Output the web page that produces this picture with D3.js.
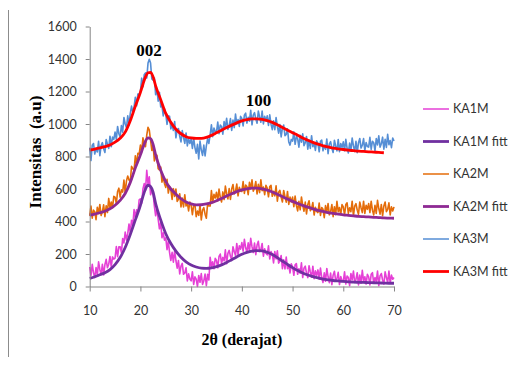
<!DOCTYPE html>
<html>
<head>
<meta charset="utf-8">
<script src="https://cdn.jsdelivr.net/npm/d3@7"></script>
<style>
  body { margin: 0; background: #fff; }
  svg { display: block; }
</style>
</head>
<body>
<svg id="chart" width="514" height="367"></svg>
<script>
// raw scans, one value every 0.25 deg starting at 10 deg
const scanStart = 10, scanStep = 0.25;

const ka1mRaw = [
  120, 66, 137, 84, 55, 117, 70, 152, 105, 74, 137, 71, 135, 167, 115, 137, 185, 121, 182, 169,
  175, 246, 183, 244, 245, 207, 295, 268, 335, 285, 325, 385, 330, 408, 375, 473, 425, 472, 450, 533,
  540, 512, 600, 633, 590, 715, 630, 675, 565, 590, 570, 495, 435, 480, 415, 355, 395, 300, 330, 285,
  300, 227, 280, 208, 160, 210, 150, 220, 160, 113, 160, 77, 125, 142, 75, 83, 115, 34, 78, 46,
  35, 91, 13, 59, 45, 0, 68, 26, 80, 13, 35, 77, 5, 75, 40, 180, 125, 152, 110, 173,
  160, 115, 185, 200, 140, 179, 158, 226, 140, 204, 222, 186, 165, 245, 215, 190, 265, 195, 250, 230,
  270, 217, 290, 238, 210, 269, 218, 296, 245, 209, 267, 196, 255, 278, 215, 227, 265, 186, 232, 204,
  195, 250, 170, 215, 200, 145, 215, 170, 220, 144, 157, 191, 110, 164, 108, 181, 110, 131, 83, 139,
  120, 69, 133, 141, 75, 109, 82, 146, 55, 113, 125, 82, 55, 128, 90, 57, 125, 48, 96, 69,
  102, 45, 113, 57, 25, 84, 32, 111, 60, 24, 83, 11, 70, 94, 34, 48, 87, 12, 61, 36,
  30, 90, 15, 65, 55, 5, 80, 40, 95, 25, 45, 85, 10, 70, 20, 100, 35, 60, 15, 75,
  60, 10, 75, 85, 20, 55, 30, 95, 5, 65, 80, 40, 15, 90, 55, 25, 95, 20, 70, 45,
  55
];

const ka2mRaw = [
  435, 495, 420, 470, 460, 411, 488, 449, 505, 437, 460, 503, 430, 497, 455, 542, 485, 520, 485, 555,
  550, 510, 585, 605, 550, 595, 580, 655, 575, 650, 680, 655, 645, 740, 725, 715, 805, 750, 820, 815,
  870, 830, 915, 875, 860, 932, 980, 962, 900, 837, 870, 773, 805, 808, 725, 717, 735, 642, 675, 633,
  610, 660, 575, 615, 595, 536, 602, 554, 600, 524, 537, 571, 490, 545, 490, 565, 495, 515, 465, 520,
  500, 442, 500, 503, 430, 464, 438, 501, 410, 470, 485, 445, 420, 510, 495, 495, 590, 516, 567, 544,
  580, 527, 600, 548, 520, 582, 535, 618, 570, 539, 603, 536, 600, 628, 570, 587, 630, 558, 610, 587,
  585, 646, 573, 624, 615, 565, 641, 601, 657, 587, 606, 646, 570, 629, 578, 656, 590, 612, 565, 623,
  605, 552, 615, 623, 555, 586, 558, 619, 525, 581, 592, 549, 520, 591, 553, 519, 585, 505, 550, 520,
  550, 491, 557, 499, 465, 524, 472, 551, 500, 463, 520, 447, 505, 528, 466, 479, 517, 440, 488, 462,
  455, 514, 437, 486, 475, 424, 498, 456, 510, 441, 462, 504, 430, 491, 442, 524, 460, 486, 442, 504,
  490, 440, 505, 515, 450, 485, 460, 525, 435, 495, 510, 470, 445, 520, 485, 455, 525, 450, 500, 475,
  510, 455, 525, 470, 440, 500, 450, 530, 480, 445, 505, 435, 495, 520, 460, 475, 515, 440, 490, 465,
  490
];

const ka3mRaw = [
  855, 775, 870, 880, 815, 851, 828, 894, 805, 867, 885, 848, 825, 905, 875, 850, 925, 860, 920, 905,
  950, 905, 985, 940, 920, 990, 950, 1040, 1000, 977, 1050, 993, 1065, 1110, 1070, 1105, 1165, 1112, 1185, 1183,
  1200, 1282, 1230, 1303, 1315, 1283, 1375, 1398, 1375, 1277, 1270, 1283, 1180, 1215, 1140, 1195, 1105, 1112, 1050, 1093,
  1060, 998, 1050, 1047, 970, 995, 960, 1015, 915, 966, 972, 924, 890, 959, 917, 881, 945, 865, 910, 880,
  910, 850, 915, 855, 820, 875, 785, 895, 840, 807, 870, 803, 865, 910, 880, 935, 995, 922, 975, 953,
  950, 1012, 940, 993, 985, 937, 1015, 978, 1035, 967, 990, 1033, 960, 1024, 978, 1061, 1000, 1028, 985, 1047,
  1035, 988, 1055, 1067, 1005, 1041, 1018, 1084, 995, 1055, 1070, 1030, 1005, 1079, 1043, 1011, 1080, 1001, 1048, 1019,
  1050, 991, 1057, 999, 965, 1020, 965, 1040, 985, 944, 997, 921, 975, 994, 928, 936, 970, 890, 870, 905,
  895, 952, 875, 923, 910, 857, 930, 888, 940, 867, 885, 923, 845, 902, 850, 928, 860, 884, 837, 896,
  880, 829, 893, 901, 835, 869, 844, 908, 817, 877, 891, 850, 825, 900, 865, 835, 905, 830, 880, 855,
  890, 835, 906, 851, 822, 883, 834, 914, 865, 831, 893, 824, 885, 911, 852, 869, 910, 836, 886, 862,
  858, 918, 844, 894, 885, 835, 911, 871, 927, 857, 878, 919, 845, 906, 856, 937, 873, 898, 854, 914,
  895
];

// fitted curves
const fitAngles = [
  10, 11, 12, 13, 14, 15, 16, 17, 18, 19, 20, 20.5, 21, 21.5, 22, 22.5,
  23, 24, 25, 26, 27, 28, 29, 30, 31, 32, 33, 34, 35, 36, 37, 38, 39, 40,
  41, 42, 43, 44, 45, 46, 47, 48, 49, 50, 51, 52, 53, 54, 55, 56, 57, 58,
  59, 60, 61, 62, 63, 64, 65, 66, 67, 68, 69, 70
];
const ka1mFit = [
  50, 60, 72, 84, 104, 135, 178, 240, 320, 410, 500, 555, 600, 623, 615, 580,
  510, 410, 325, 265, 218, 180, 152, 132, 120, 113, 112, 115, 122, 133, 148, 165, 182, 198,
  210, 218, 221, 219, 211, 197, 178, 157, 136, 116, 98, 83, 71, 61, 53, 46, 41, 37,
  34, 31, 29, 27, 26, 25, 24, 23, 22, 21, 20, 20
];
const ka2mFit = [
  440, 446, 454, 463, 478, 500, 530, 572, 640, 730, 810, 855, 895, 915, 910, 875,
  810, 715, 645, 600, 568, 540, 520, 508, 502, 503, 508, 516, 528, 542, 557, 571, 584, 594,
  601, 605, 605, 601, 593, 582, 568, 553, 538, 524, 511, 499, 488, 478, 469, 462, 455, 450,
  445, 441, 438, 435, 432, 430, 428, 426, 424, 422, 421, 420
];
const ka3mFit = [
  840, 846, 853, 861, 871, 888, 912, 950, 1020, 1110, 1195, 1245, 1290, 1315, 1318, 1290,
  1235, 1150, 1065, 1010, 968, 940, 922, 914, 911, 912, 918, 930, 946, 962, 978, 993, 1007, 1019,
  1027, 1031, 1032, 1029, 1021, 1010, 995, 978, 962, 946, 931, 914, 900, 887, 876, 866, 859, 852,
  847, 843, 839, 836, 833, 831, 829, 827, 825, 823
];

const xTicks = [10, 20, 30, 40, 50, 60, 70];
const yTicks = [0, 200, 400, 600, 800, 1000, 1200, 1400, 1600];
const seriesNames = ['KA1M', 'KA1M fitt', 'KA2M', 'KA2M fitt', 'KA3M', 'KA3M fitt'];
const peakLabels = [{ text: '002', angle: 21.7, value: 1400 }, { text: '100', angle: 43.3, value: 1090 }];

const series = [
  { name: seriesNames[0], raw: ka1mRaw, color: '#e540d6' },
  { name: seriesNames[1], fit: ka1mFit, color: '#7030a0' },
  { name: seriesNames[2], raw: ka2mRaw, color: '#e46c0a' },
  { name: seriesNames[3], fit: ka2mFit, color: '#8e2a93' },
  { name: seriesNames[4], raw: ka3mRaw, color: '#558ed5' },
  { name: seriesNames[5], fit: ka3mFit, color: '#ff0000' }
];

const svg = d3.select('#chart');
const x = d3.scaleLinear().domain([10, 70]).range([89.7, 394]);
const y = d3.scaleLinear().domain([0, 1600]).range([286.5, 26.5]);

// page edge line
svg.append('line')
  .attr('x1', 8.5).attr('x2', 8.5)
  .attr('y1', 10).attr('y2', 357)
  .attr('stroke', '#8c8c8c')
  .attr('stroke-width', 1);

const line = d3.line()
  .x(d => x(d[0]))
  .y(d => y(d[1]));

const plot = svg.append('g');
series.forEach(s => {
  let pts;
  if (s.raw) {
    pts = s.raw.map((v, i) => [scanStart + i * scanStep, v]);
    line.curve(d3.curveLinear);
  } else {
    pts = s.fit.map((v, i) => [fitAngles[i], v]);
    line.curve(d3.curveMonotoneX);
  }
  plot.append('path')
    .attr('d', line(pts))
    .attr('fill', 'none')
    .attr('stroke', s.color)
    .attr('stroke-width', s.raw ? 1.6 : 2.8)
    .attr('stroke-linejoin', 'round');
});

// axes
const yAxis = d3.axisLeft(y)
  .tickValues(yTicks)
  .tickFormat(d3.format('d'))
  .tickSizeInner(4)
  .tickSizeOuter(0)
  .tickPadding(9);
const xAxis = d3.axisBottom(x)
  .tickValues(xTicks)
  .tickFormat(d3.format('d'))
  .tickSizeInner(5)
  .tickSizeOuter(0)
  .tickPadding(15);

svg.append('g')
  .attr('transform', `translate(${x(10)},0)`)
  .call(yAxis);
svg.append('g')
  .attr('transform', `translate(0,${y(0)})`)
  .call(xAxis);

svg.selectAll('.domain, .tick line')
  .attr('stroke', '#868686');
svg.selectAll('.tick text')
  .attr('fill', '#333')
  .style('font-family', 'Lato, sans-serif')
  .style('font-size', '12.5px');

// titles
svg.append('text')
  .text('2θ (derajat)')
  .attr('x', (x(10) + x(70)) / 2)
  .attr('y', 345)
  .attr('text-anchor', 'middle')
  .style('font-family', '"Liberation Serif", serif')
  .style('font-weight', 'bold')
  .style('font-size', '16px');

svg.append('text')
  .text('Intensitas  (a.u)')
  .attr('transform', 'translate(41,152) rotate(-90)')
  .attr('text-anchor', 'middle')
  .attr('xml:space', 'preserve')
  .style('white-space', 'pre')
  .style('font-family', '"Liberation Serif", serif')
  .style('font-weight', 'bold')
  .style('font-size', '17px');

svg.selectAll('.peak')
  .data(peakLabels)
  .enter()
  .append('text')
  .attr('class', 'peak')
  .text(d => d.text)
  .attr('x', d => x(d.angle))
  .attr('y', d => y(d.value) - 3)
  .attr('text-anchor', 'middle')
  .style('font-family', '"Liberation Serif", serif')
  .style('font-weight', 'bold')
  .style('font-size', '17px');

// legend
const legend = svg.selectAll('.legend')
  .data(series)
  .enter()
  .append('g')
  .attr('class', 'legend')
  .attr('transform', (d, i) => `translate(423,${109 + i * 32.5})`);

legend.append('line')
  .attr('x1', 0).attr('x2', 26)
  .attr('stroke', d => d.color)
  .attr('stroke-width', d => d.fit ? 2.8 : 1.5);

legend.append('text')
  .text(d => d.name)
  .attr('x', 30)
  .attr('dy', '0.35em')
  .attr('fill', '#333')
  .style('font-family', 'Lato, sans-serif')
  .style('font-size', '12.5px');
</script>
</body>
</html>
